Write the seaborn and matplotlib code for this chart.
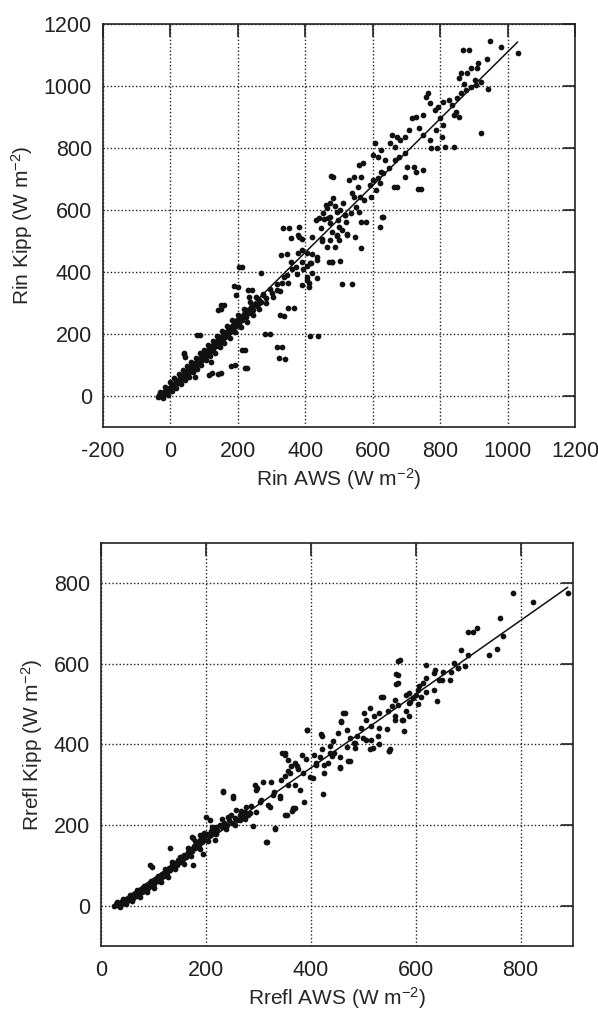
import matplotlib
matplotlib.use("Agg")
import matplotlib.pyplot as plt
import pandas as pd
import seaborn as sns

# values (W m-2)
# top panel: dense band close to the fit line
rin_band = [(-37, -4), (-34, 2), (-31, -1), (-29, 6), (-26, 3), (-24, 10), (-21, 6), (-19, 14),
            (-16, 10), (-14, 18), (-11, 14), (-9, 22), (-6, 18), (-4, 26), (-1, 22), (1, 30),
            (4, 27), (6, 35), (9, 31), (11, 40), (14, 36), (16, 44), (19, 41), (21, 50),
            (24, 45), (27, 55), (29, 50), (32, 61), (35, 56), (37, 66), (40, 61), (43, 72),
            (45, 67), (48, 78), (51, 72), (53, 84), (56, 78), (59, 90), (62, 84), (64, 96),
            (67, 89), (70, 102), (73, 96), (75, 108), (78, 101), (81, 114), (84, 107), (87, 120),
            (90, 113), (93, 127), (96, 120), (99, 134), (102, 126), (105, 140), (108, 133),
            (111, 147), (114, 140), (117, 154), (120, 146), (124, 161), (127, 153), (130, 168),
            (134, 160), (137, 176), (140, 168), (144, 183), (148, 175), (151, 191), (155, 183),
            (158, 199), (162, 191), (166, 208), (170, 199), (174, 217), (178, 208), (182, 226),
            (186, 217), (190, 235), (195, 226), (199, 246), (203, 236), (208, 256), (213, 246),
            (218, 266), (223, 256), (228, 276), (233, 267), (238, 287), (244, 278), (250, 298),
            (256, 290), (262, 310), (268, 302)]
# top panel: edges of the band
rin_band_edge = [(-30, 12), (-22, -6), (-15, 28), (-8, 4), (0, 45), (5, 15), (12, 58), (18, 26),
                 (25, 72), (30, 40), (38, 85), (42, 52), (50, 98), (55, 62), (62, 110), (68, 76),
                 (75, 124), (80, 88), (88, 138), (92, 100), (100, 150), (106, 115), (112, 164),
                 (118, 128), (125, 178), (132, 140), (139, 194), (146, 158), (153, 210), (160, 172),
                 (168, 226), (176, 186), (184, 244), (192, 206), (200, 262), (210, 222), (218, 282),
                 (226, 240), (236, 302), (246, 262), (255, 318), (264, 280), (275, 330), (285, 300),
                 (296, 345), (305, 318), (315, 362), (325, 340), (338, 384), (350, 366), (362, 410),
                 (375, 395), (390, 432), (405, 420), (420, 458), (435, 440), (450, 500), (465, 480),
                 (480, 530), (495, 515)]
# top panel: scattered points
rin_scatter = [(40, 138), (87, 197), (119, 111), (124, 73), (150, 73), (150, 280), (160, 293),
               (191, 100), (212, 417), (222, 148), (227, 89), (200, 353), (233, 320), (243, 342),
               (295, 199), (337, 258), (331, 157), (341, 121), (368, 285), (352, 541), (438, 194),
               (538, 361), (410, 353), (436, 380), (478, 433), (504, 435), (499, 503), (524, 522),
               (488, 613), (457, 570), (380, 514), (391, 471), (347, 458), (462, 616), (472, 578),
               (493, 594), (519, 584), (499, 546), (509, 535), (524, 519), (472, 503), (488, 482),
               (451, 508), (420, 514), (389, 508), (404, 460), (378, 460), (357, 433), (373, 417),
               (394, 411), (415, 428), (436, 449), (420, 396), (404, 374), (410, 363), (347, 390),
               (331, 363), (316, 342), (301, 331), (285, 315), (274, 326), (264, 299), (243, 288),
               (233, 272), (218, 256), (208, 245), (151, 294), (142, 277), (80, 197), (39, 135),
               (44, 126), (74, 61), (113, 68), (142, 71), (181, 97), (211, 148), (220, 90),
               (202, 416), (190, 355), (196, 326), (231, 342), (270, 397), (282, 200), (315, 158),
               (323, 123), (350, 284), (326, 261), (329, 455), (359, 510), (510, 361), (415, 194),
               (564, 477), (549, 513), (469, 432), (478, 432), (418, 429), (404, 384), (389, 358),
               (495, 519), (733, 668), (662, 674), (629, 577), (475, 710), (335, 542), (382, 546),
               (377, 519), (764, 979), (759, 966), (769, 944), (785, 923), (795, 933), (810, 949),
               (825, 955), (835, 939), (851, 960), (861, 976), (877, 987), (892, 998), (907, 1003),
               (922, 1014), (846, 917), (856, 901), (800, 896), (810, 874), (788, 858), (805, 837),
               (815, 804), (841, 802), (790, 799), (774, 799), (769, 826), (749, 842), (738, 863),
               (728, 901), (749, 906), (718, 896), (708, 858), (697, 837), (682, 826), (672, 837),
               (657, 842), (666, 804), (651, 815), (626, 794), (606, 815), (600, 777), (616, 772),
               (636, 761), (667, 761), (677, 772), (697, 783), (702, 740), (723, 740), (728, 724),
               (748, 729), (697, 708), (672, 675), (743, 667), (626, 724), (621, 686), (610, 665),
               (595, 643), (575, 632), (570, 751), (565, 708), (560, 745), (545, 708), (530, 697),
               (555, 675), (545, 643), (563, 643), (550, 611), (535, 589), (519, 584), (504, 600),
               (482, 708), (482, 638), (473, 622), (463, 605), (453, 589), (468, 573), (442, 573),
               (431, 568), (447, 541), (473, 557), (497, 568), (522, 562), (565, 562), (580, 562),
               (560, 595), (631, 579), (621, 546), (512, 622), (538, 654), (591, 681), (600, 697),
               (616, 702), (631, 718), (647, 734), (869, 1116), (949, 1145), (982, 1126),
               (1030, 1107), (938, 1087), (911, 1074), (893, 1058), (863, 1042), (857, 1026),
               (943, 990), (920, 848), (872, 1006), (840, 906), (887, 1116), (910, 1057),
               (879, 1041), (902, 1019)]
rin_fit_x = [-35, 1030]
rin_fit_y = [-5, 1142]

# bottom panel
rrefl_band = [(25, 0), (28, 4), (30, 1), (33, 6), (35, 3), (38, 9), (40, 6), (43, 12), (45, 9),
              (48, 16), (50, 12), (53, 20), (56, 16), (58, 24), (61, 20), (64, 28), (66, 24),
              (69, 33), (72, 29), (75, 38), (78, 34), (81, 43), (84, 39), (87, 48), (90, 44),
              (93, 54), (96, 50), (99, 60), (102, 55), (105, 66), (108, 61), (111, 72), (114, 68),
              (117, 79), (120, 74), (123, 86), (126, 81), (129, 93), (132, 88), (135, 100),
              (138, 95), (141, 107), (144, 102), (147, 114), (150, 109), (153, 121), (156, 116),
              (159, 127), (162, 122), (165, 134), (168, 129), (171, 141), (174, 136), (177, 148),
              (180, 143), (183, 155), (186, 150), (189, 162), (192, 157), (195, 170), (198, 164),
              (202, 178), (206, 172), (210, 186), (214, 180), (218, 194), (222, 188), (226, 200),
              (230, 195), (235, 206), (240, 200), (245, 212), (250, 206), (255, 218), (260, 212),
              (265, 224), (270, 220), (275, 232), (280, 226)]
rrefl_band_edge = [(30, 8), (36, -3), (42, 17), (48, 5), (55, 27), (60, 12), (68, 38), (74, 22),
                   (82, 50), (88, 34), (95, 62), (101, 45), (108, 74), (115, 58), (122, 90),
                   (128, 72), (136, 108), (142, 90), (150, 120), (158, 104), (165, 142), (172, 124),
                   (180, 160), (188, 140), (196, 180), (204, 160), (212, 196), (220, 178),
                   (230, 214), (238, 190), (248, 226), (256, 200), (266, 236), (275, 214),
                   (286, 248), (296, 232), (306, 262), (318, 250), (330, 282), (342, 268),
                   (356, 300), (370, 300), (385, 330), (398, 320), (410, 350), (425, 348),
                   (440, 372), (455, 368), (470, 395), (485, 392), (500, 415), (515, 410),
                   (530, 440), (545, 438), (560, 470), (575, 460), (590, 505), (605, 500),
                   (620, 530), (635, 535), (650, 560), (665, 560), (680, 590), (695, 595)]
rrefl_scatter = [(131, 144), (94, 100), (173, 171), (176, 100), (195, 129), (201, 221), (233, 285),
                 (252, 271), (293, 300), (296, 287), (309, 308), (325, 308), (350, 379), (357, 362),
                 (344, 312), (366, 242), (354, 225), (331, 192), (315, 158), (290, 197), (265, 212),
                 (277, 246), (258, 237), (303, 258), (328, 275), (220, 196), (217, 162), (189, 175),
                 (207, 212), (242, 221), (284, 229), (322, 246), (341, 271), (360, 329), (373, 346),
                 (271, 221), (350, 375), (232, 281), (252, 268), (297, 291), (316, 157), (331, 191),
                 (350, 224), (366, 241), (97, 97), (175, 169), (710, 680), (687, 635), (700, 622),
                 (673, 602), (680, 589), (667, 581), (653, 581), (644, 560), (634, 577), (637, 585),
                 (620, 598), (620, 565), (614, 552), (607, 544), (604, 536), (601, 523), (611, 519),
                 (640, 507), (594, 515), (587, 528), (581, 523), (571, 610), (567, 573), (567, 552),
                 (587, 503), (567, 499), (561, 511), (554, 495), (581, 482), (578, 433), (587, 470),
                 (574, 462), (561, 462), (538, 519), (548, 482), (531, 478), (521, 470), (512, 490),
                 (502, 478), (505, 462), (495, 441), (515, 445), (528, 421), (531, 400), (518, 392),
                 (505, 412), (488, 421), (475, 416), (482, 404), (465, 478), (458, 458), (452, 429),
                 (469, 437), (442, 408), (436, 396), (422, 388), (419, 425), (406, 375), (393, 437),
                 (390, 363), (383, 375), (370, 355), (376, 338), (363, 347), (356, 334), (346, 379),
                 (350, 322), (426, 330), (455, 342), (475, 359), (485, 404), (551, 388), (432, 355),
                 (409, 355), (445, 379), (785, 775), (823, 753), (890, 775), (760, 713), (716, 690),
                 (699, 678), (766, 668), (739, 623), (756, 638), (566, 606), (562, 574), (562, 551),
                 (533, 517), (461, 477), (457, 457), (421, 420), (392, 435), (549, 385), (512, 390),
                 (549, 383), (471, 358), (455, 343), (423, 278), (387, 258), (370, 243), (364, 236),
                 (404, 318), (379, 286), (417, 368), (436, 378)]
rrefl_fit_x = [25, 890]
rrefl_fit_y = [-1, 790]

sns.set_theme(style="white")
plt.rcParams["font.family"] = ["Liberation Sans", "DejaVu Sans"]
plt.rcParams["axes.unicode_minus"] = False
plt.rcParams["mathtext.fontset"] = "custom"
plt.rcParams["mathtext.rm"] = "Liberation Sans"
plt.rcParams["mathtext.it"] = "Liberation Sans"
plt.rcParams["mathtext.default"] = "regular"

fig = plt.figure(figsize=(5.98, 10.17), dpi=100)
ax1 = fig.add_axes([0.1722, 0.5801, 0.7893, 0.3963])
ax2 = fig.add_axes([0.1689, 0.0698, 0.7893, 0.3963])


def draw(ax, band, edge, scatter, fx, fy, xname, yname):
    df = pd.DataFrame(band + edge + scatter, columns=[xname, yname])
    sns.scatterplot(data=df, x=xname, y=yname, ax=ax, color="#111111", s=17,
                    linewidth=0, zorder=3)
    sns.lineplot(x=fx, y=fy, ax=ax, color="#111111", linewidth=1.1, zorder=4)


draw(ax1, rin_band, rin_band_edge, rin_scatter, rin_fit_x, rin_fit_y, "rin_aws", "rin_kipp")
draw(ax2, rrefl_band, rrefl_band_edge, rrefl_scatter, rrefl_fit_x, rrefl_fit_y,
     "rrefl_aws", "rrefl_kipp")

ax1.set_xlim(-200, 1200)
ax1.set_ylim(-100, 1200)
ax1.set_xticks(range(-200, 1201, 200))
ax1.set_yticks(range(0, 1201, 200))
ax1.set_xlabel(r"Rin AWS (W m$^{-2}$)", fontsize=15, labelpad=3)
ax1.set_ylabel(r"Rin Kipp (W m$^{-2}$)", fontsize=15, labelpad=6)

ax2.set_xlim(0, 900)
ax2.set_ylim(-100, 900)
ax2.set_xticks(range(0, 801, 200))
ax2.set_yticks(range(0, 801, 200))
ax2.set_xlabel(r"Rrefl AWS (W m$^{-2}$)", fontsize=15, labelpad=3)
ax2.set_ylabel(r"Rrefl Kipp (W m$^{-2}$)", fontsize=15, labelpad=6)

for ax in (ax1, ax2):
    ax.grid(True, color="#222222", linestyle=(0, (1, 1.6)), linewidth=1.0)
    ax.set_axisbelow(True)
    ax.tick_params(axis="both", direction="in", length=9, width=1.2, color="#222222",
                   top=True, right=True, labelsize=15.5, labelcolor="#222222")
    ax.tick_params(axis="x", pad=10)
    ax.tick_params(axis="y", pad=8)
    for sp in ax.spines.values():
        sp.set_color("#222222")
        sp.set_linewidth(1.2)
        sp.set_visible(True)

fig.savefig("out.png", dpi=100, facecolor="white")
